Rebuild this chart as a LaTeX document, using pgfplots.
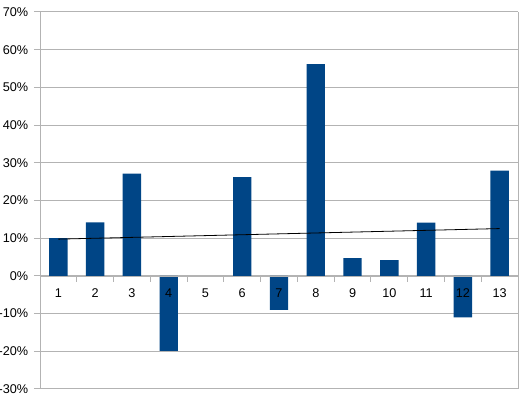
\documentclass[border=0pt]{standalone}
\usepackage{pgfplots}
\pgfplotsset{compat=1.18}
\usepackage{fontspec}
\setmainfont{Liberation Sans}
\definecolor{barblue}{HTML}{004586}
\definecolor{gridgray}{HTML}{B3B3B3}
\pgfplotsset{
  layers/mylayers/.define layer set={axis background,axis grid,axis ticks,main,axis lines,axis tick labels,axis descriptions,axis foreground}{
    grid style={/pgfplots/on layer=axis grid},
    tick style={/pgfplots/on layer=axis ticks},
    axis line style={/pgfplots/on layer=axis lines},
    label style={/pgfplots/on layer=axis descriptions},
    legend style={/pgfplots/on layer=axis descriptions},
    title style={/pgfplots/on layer=axis descriptions},
    colorbar style={/pgfplots/on layer=axis descriptions},
    ticklabel style={/pgfplots/on layer=axis tick labels},
    axis background@ style={/pgfplots/on layer=axis background},
    3d box foreground style={/pgfplots/on layer=axis foreground},
  },
}
\begin{document}
\fontsize{9.5}{11}\selectfont
\begin{tikzpicture}
\begin{axis}[
  set layers=mylayers,
  scale only axis, width=358.5pt, height=282.75pt,
  xmin=0.5, xmax=13.5, ymin=-30, ymax=70,
  axis x line*=middle, axis y line*=box,
  hide obscured x ticks=false,
  x axis line style={-, draw=gridgray},
  y axis line style={-, draw=gridgray},
  ytick pos=left,
  ytick={-30,-20,...,70},
  yticklabel={\pgfmathprintnumber{\tick}\%},
  /pgf/number format/assume math mode=true,
  ymajorgrids, grid style={gridgray, line width=0.75pt},
  xtick={0.5,1.5,...,12.5},
  extra x ticks={13.5}, extra x tick labels={},
  xticklabels={1,2,3,4,5,6,7,8,9,10,11,12,13},
  x tick label style={xshift=13.8pt, anchor=north, yshift=-2pt},
  tick align=outside, major tick length=4.5pt,
  tick style={gridgray, line width=0.75pt},
  ticklabel style={font=\fontsize{9.5}{11}\selectfont, text=black},
  y tick label style={xshift=-1pt},
]
\addplot[ybar, bar width=0.5, fill=barblue, draw=none] coordinates {
  (1,10.0) (2,14.2) (3,27.1) (4,-19.9) (6,26.2) (7,-9.0)
  (8,56.2) (9,4.7) (10,4.2) (11,14.1) (12,-11.0) (13,27.9)
};
\addplot[black, line width=0.6pt, no marks] coordinates {(1,9.75) (13,12.55)};
\coordinate (sw) at (rel axis cs:0,0);
\coordinate (ne) at (rel axis cs:1,1);
\end{axis}
\pgfresetboundingbox
\path ([xshift=-30pt,yshift=-6pt]sw) rectangle ([xshift=4.5pt,yshift=9pt]ne);
\end{tikzpicture}
\end{document}
